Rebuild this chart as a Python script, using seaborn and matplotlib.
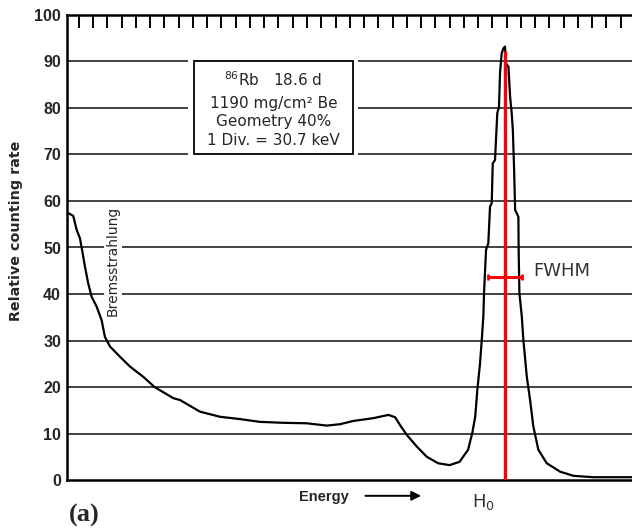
import matplotlib
matplotlib.use("Agg")
import matplotlib.pyplot as plt
from matplotlib.patches import Rectangle
import seaborn as sns
import pandas as pd

# spectrum (x in divisions, 1 div = 30.7 keV)
energy_div = [-0.75, -0.40, -0.16, 0.07, 0.26, 0.42, 0.65, 0.89, 1.24, 1.59,
              1.82, 2.18, 2.88, 3.58, 4.51, 5.30, 6.62, 7.09, 8.49, 9.89,
              11.30, 12.70, 14.34, 15.98, 17.38, 18.32, 19.25, 20.65, 21.71, 22.18,
              22.53, 23.00, 23.70, 24.40, 25.20, 26.00, 26.70, 27.30, 27.60, 27.80,
              27.95, 28.14, 28.26, 28.37, 28.42, 28.56, 28.72, 28.84, 28.96, 29.03,
              29.19, 29.35, 29.47, 29.54, 29.66, 29.78, 29.89, 29.96, 30.13, 30.25,
              30.36, 30.44, 30.53, 30.60, 30.83, 30.85, 30.90, 31.07, 31.18, 31.42,
              31.65, 31.88, 32.23, 32.82, 33.75, 34.69, 36.09, 38.80]
rate = [57.4, 56.8, 53.8, 52.0, 48.8, 45.9, 42.3, 39.4, 37.3, 34.4,
        30.8, 28.7, 26.5, 24.4, 22.2, 20.0, 17.6, 17.2, 14.7, 13.6,
        13.1, 12.5, 12.3, 12.2, 11.7, 12.0, 12.7, 13.3, 14.0, 13.5,
        11.8, 9.7, 7.2, 5.0, 3.6, 3.2, 3.9, 6.5, 10.2, 13.6,
        19.4, 25.1, 30.1, 35.1, 40.2, 49.5, 50.9, 58.8, 59.5, 68.1,
        68.8, 78.9, 80.3, 87.5, 91.8, 92.8, 93.2, 89.6, 88.9, 82.4,
        78.9, 75.3, 66.7, 58.1, 56.6, 49.0, 40.2, 35.1, 30.1, 22.2,
        17.2, 11.5, 6.5, 3.6, 1.8, 0.9, 0.6, 0.6]

y_ticks = [0, 10, 20, 30, 40, 50, 60, 70, 80, 90, 100]
x_ticks = list(range(0, 39))
box_lines = [r"$^{86}$Rb   18.6 d", "1190 mg/cm² Be", "Geometry 40%", "1 Div. = 30.7 keV"]
box_line_y = [86.0, 81.0, 77.0, 73.1]

h0_div = 29.9
fwhm_left, fwhm_right, fwhm_level = 28.72, 31.07, 43.7

sns.set_style("white")
plt.rcParams['font.family'] = ['Liberation Sans', 'DejaVu Sans']

fig = plt.figure(figsize=(6.32, 5.28), dpi=100)
ax = fig.add_axes([0.1055, 0.0909, 0.8945, 0.8807])

df = pd.DataFrame({'energy': energy_div, 'rate': rate})
sns.lineplot(data=df, x='energy', y='rate', color='black', linewidth=1.6,
             estimator=None, sort=False, ax=ax, zorder=4)

ax.set_xlim(-0.86, 38.8)
ax.set_ylim(0, 100)
ax.set_xticks(x_ticks)
ax.set_yticks(y_ticks)
ax.set_xlabel('')
ax.set_ylabel('')
ax.tick_params(axis='x', direction='in', length=9, width=1.4, top=True,
               labelbottom=False, color='black')
ax.tick_params(axis='y', length=0, pad=4, labelsize=11.5)
for lab in ax.get_yticklabels():
    lab.set_fontweight('bold')

for g in y_ticks[1:-1]:
    ax.axhline(g, color='#222222', linewidth=1.2, zorder=1)

for s in ['left', 'bottom', 'top']:
    ax.spines[s].set_linewidth(1.8)
    ax.spines[s].set_color('black')
ax.spines['right'].set_visible(False)

# info box
ax.add_patch(Rectangle((7.65, 69.4), 11.95, 21.2, facecolor='white',
                       edgecolor='none', zorder=2))
ax.add_patch(Rectangle((8.09, 70), 11.11, 20, facecolor='white',
                       edgecolor='black', linewidth=1.3, zorder=3))
for txt, yy in zip(box_lines, box_line_y):
    ax.text(13.65, yy, txt, ha='center', va='center', fontsize=11,
            family='DejaVu Sans', zorder=5)

ax.text(2.39, 47.1, 'Bremsstrahlung', rotation=90, ha='center', va='center',
        fontsize=10, family='DejaVu Sans', zorder=5,
        bbox=dict(facecolor='white', edgecolor='none', pad=1.5))

# H0 marker and FWHM bar
ax.plot([h0_div, h0_div], [0, 92.2], color='red', linewidth=2.4, zorder=6,
        solid_capstyle='butt')
ax.errorbar([(fwhm_left + fwhm_right) / 2], [fwhm_level],
            xerr=[(fwhm_right - fwhm_left) / 2], color='red', elinewidth=2.2,
            capsize=2.5, capthick=2, fmt='none', zorder=6)
ax.text(31.9, fwhm_level + 1.2, 'FWHM', color='#333333', fontsize=13,
        family='DejaVu Sans', ha='left', va='center', zorder=6)

trans = ax.get_xaxis_transform()
ax.text(28.4, -0.048, r'H$_0$', transform=trans, color='#333333', fontsize=13,
        family='DejaVu Sans', ha='center', va='center', clip_on=False)
ax.text(17.2, -0.036, 'Energy', transform=trans, fontsize=10.5, fontweight='bold',
        ha='center', va='center', clip_on=False)
ax.annotate('', xy=(24.2, -0.034), xytext=(19.9, -0.034), xycoords=trans,
            textcoords=trans,
            arrowprops=dict(arrowstyle='-|>', color='black', lw=1.4,
                            mutation_scale=14), annotation_clip=False)
ax.text(0.4, -0.076, '(a)', transform=trans, fontsize=19, fontweight='bold',
        family='Liberation Serif', ha='center', va='center', clip_on=False)

fig.text(0.0253, 0.5625, 'Relative counting rate', rotation=90, ha='center',
         va='center', fontsize=10.3, fontweight='bold', family='DejaVu Sans')

fig.savefig('out.png', dpi=100)
